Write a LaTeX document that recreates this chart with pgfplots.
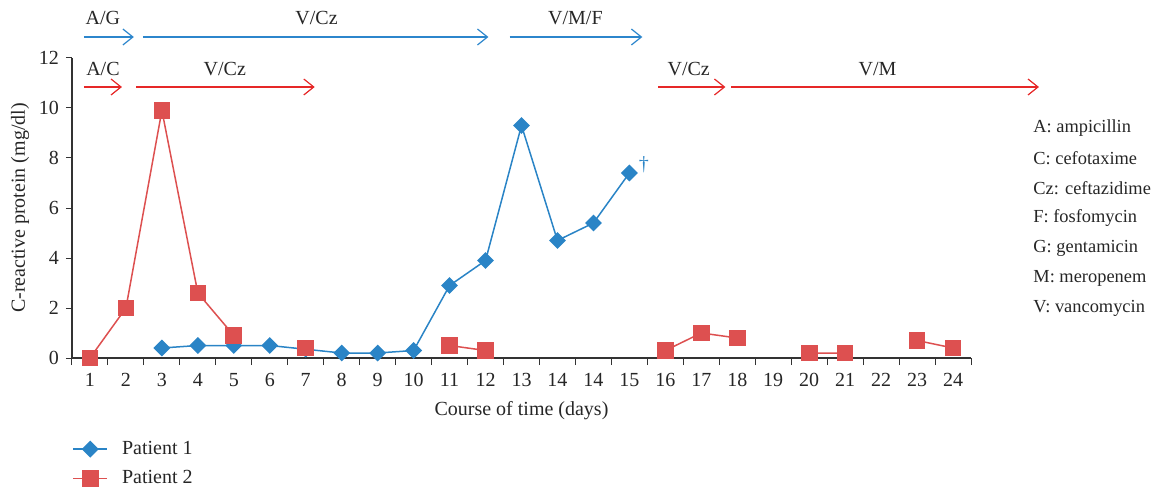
\documentclass[border=0pt]{standalone}
\usepackage{pgfplots}
\pgfplotsset{compat=1.18}
\usepackage{fontspec}
\setmainfont{Liberation Serif}
\usetikzlibrary{arrows.meta}
\definecolor{pblue}{HTML}{2A84C6}
\definecolor{pred}{HTML}{DD5050}
\definecolor{ablue}{HTML}{2C86CC}
\definecolor{ared}{HTML}{E62828}
\begin{document}
\begin{tikzpicture}[x=1pt,y=1pt]
\useasboundingbox (0,0) rectangle (577.5,243.5);
\begin{axis}[
  at={(36pt,64.5pt)}, anchor=south west,
  scale only axis, width=449.5pt, height=150pt,
  xmin=-0.5, xmax=24.5, ymin=0, ymax=12,
  axis x line*=bottom, axis y line*=left,
  axis line style={black!80, line width=0.6pt},
  xtick={0,...,24},
  xticklabels={1,2,3,4,5,6,7,8,9,10,11,12,13,14,14,15,16,17,18,19,20,21,22,23,24},
  minor xtick={-0.5,0.5,...,24.5},
  major x tick style={draw=none},
  minor tick length=3.5pt,
  ytick={0,2,...,12},
  major tick length=3pt,
  tick align=outside,
  tick style={black!80, line width=0.5pt},
  /pgf/number format/assume math mode=true,
  ticklabel style={font=\fontsize{10}{12}\selectfont, text=black!85},
  xticklabel style={yshift=-1pt},
  xlabel={Course of time (days)},
  ylabel={C-reactive protein (mg/dl)},
  label style={font=\fontsize{10}{12}\selectfont, text=black!85},
  xlabel style={yshift=-0.5pt},
  ylabel style={yshift=-2pt},
  clip=false,
  unbounded coords=jump,
  legend style={at={(0,-0.262)}, anchor=north west, draw=none, fill=none,
    font=\fontsize{10}{12}\selectfont, row sep=2.5pt, inner sep=0pt,
    nodes={inner xsep=7pt, text=black!85}},
  legend cell align=left,
]
\addplot[color=pblue, line width=0.75pt, mark=square*, mark size=2.6pt,
  mark options={rotate=45, fill=pblue, draw=pblue}]
  coordinates {
  (0,nan) (1,nan) (2,0.4) (3,0.5) (4,0.5) (5,0.5) (6,0.35) (7,0.2) (8,0.2)
  (9,0.3) (10,2.9) (11,3.9) (12,9.3) (13,4.7) (14,5.4) (15,7.4)
  };
\addlegendentry{Patient 1}
\addplot[color=pred, line width=0.75pt, mark=square*, mark size=3.8pt,
  mark options={fill=pred, draw=pred}]
  coordinates {
  (0,0) (1,2.0) (2,9.9) (3,2.6) (4,0.9) (5,nan) (6,0.4) (7,nan)
  (10,0.5) (11,0.3) (12,nan) (16,0.3) (17,1.0) (18,0.8) (19,nan)
  (20,0.2) (21,0.2) (22,nan) (23,0.7) (24,0.4)
  };
\addlegendentry{Patient 2}
% therapy arrows
\begin{scope}[line width=0.6pt, arrows={-{Straight Barb[length=5pt,width=8pt]}}]
\draw[ablue] (axis cs:-0.17,12.84) -- (axis cs:1.22,12.84);
\draw[ablue] (axis cs:1.47,12.84) -- (axis cs:11.08,12.84);
\draw[ablue] (axis cs:11.67,12.84) -- (axis cs:15.36,12.84);
\draw[ared] (axis cs:-0.17,10.84) -- (axis cs:0.89,10.84);
\draw[ared] (axis cs:1.28,10.84) -- (axis cs:6.25,10.84);
\draw[ared] (axis cs:15.8,10.84) -- (axis cs:17.67,10.84);
\draw[ared] (axis cs:17.83,10.84) -- (axis cs:26.39,10.84);
\end{scope}
\begin{scope}[font=\fontsize{10}{12}\selectfont, text=black!85]
\node at (axis cs:0.36,13.6) {A/G};
\node at (axis cs:6.3,13.6) {V/Cz};
\node at (axis cs:13.5,13.6) {V/M/F};
\node at (axis cs:0.36,11.55) {A/C};
\node at (axis cs:3.75,11.55) {V/Cz};
\node at (axis cs:16.65,11.55) {V/Cz};
\node at (axis cs:21.9,11.55) {V/M};
\node[text=pblue] at (axis cs:15.4,7.75) {\dag};
\end{scope}
\end{axis}
\begin{scope}[font=\fontsize{9.2}{11}\selectfont]
\foreach \t [count=\i from 0] in {A: ampicillin, C: cefotaxime, Cz: ceftazidime, F: fosfomycin, G: gentamicin, M: meropenem, V: vancomycin}
  \node[anchor=west, inner sep=0pt, text=black!85] at (516.5, 179.5-15*\i) {\t};
\end{scope}
\end{tikzpicture}
\end{document}
